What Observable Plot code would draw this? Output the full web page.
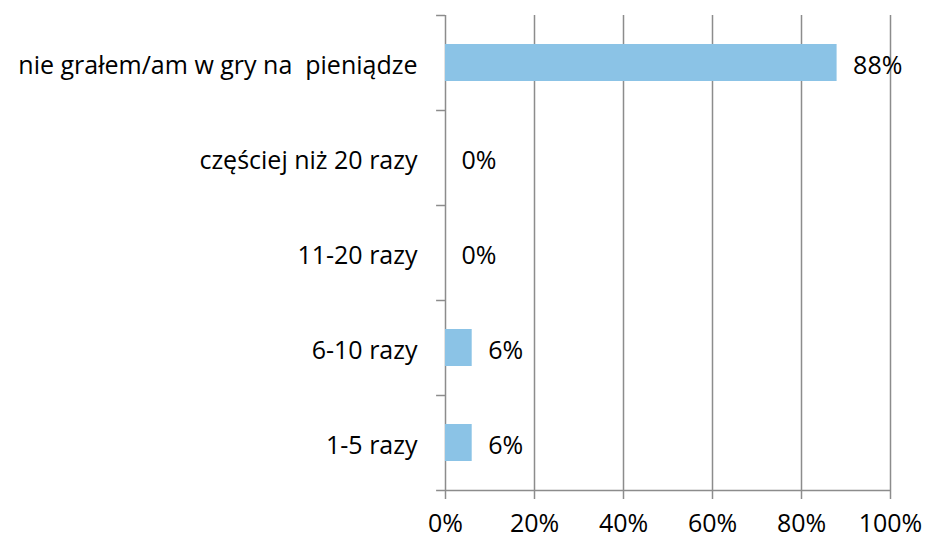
<!DOCTYPE html>
<html>
<head>
<meta charset="utf-8">
<script src="https://cdn.jsdelivr.net/npm/d3@7"></script>
<script src="https://cdn.jsdelivr.net/npm/@observablehq/plot@0.6"></script>
<style>
  html, body { margin: 0; padding: 0; background: #fff; }
  svg text { white-space: pre; }
</style>
</head>
<body>
<div id="chart"></div>
<script>
const categories = ["nie grałem/am w gry na  pieniądze", "częściej niż 20 razy", "11-20 razy", "6-10 razy", "1-5 razy"];
const values = [0.88, 0, 0, 0.06, 0.06];
const xTicks = [0, 0.2, 0.4, 0.6, 0.8, 1];

const data = categories.map((c, i) => ({category: c, value: values[i]}));
const fmt = d3.format(".0%");
const gray = "#8c8c8c";
const H = 541, MT = 15, MB = 51;
const step = (H - MT - MB) / categories.length;
const FS = 25;

const chart = Plot.plot({
  width: 925,
  height: H,
  marginLeft: 445,
  marginRight: 35,
  marginTop: MT,
  marginBottom: MB,
  style: {fontFamily: "'Open Sans', 'Noto Sans', sans-serif", fontSize: FS + "px", color: "#000", background: "#fff", overflow: "visible"},
  x: {domain: [0, 1], label: null},
  y: {domain: categories, paddingInner: 0.61, paddingOuter: 0.305, label: null},
  marks: [
    Plot.gridX(xTicks, {stroke: gray, strokeOpacity: 1, strokeWidth: 1.5}),
    Plot.barX(data, {x: "value", y: "category", fill: "#8BC3E6"}),
    Plot.ruleY(categories, {y: d => d, x1: -0.02, x2: 0, dy: -step / 2, stroke: gray, strokeWidth: 1.5}),
    Plot.ruleY([categories[categories.length - 1]], {y: d => d, x1: -0.02, x2: 1, dy: step / 2, stroke: gray, strokeWidth: 1.5}),
    Plot.text(data, {x: "value", y: "category", text: d => fmt(d.value), textAnchor: "start", dx: 16, dy: 3, fontSize: FS, fill: "#000"}),
    Plot.axisX(xTicks, {tickFormat: fmt, tickSize: 9, tickPadding: 15, stroke: gray, strokeWidth: 1.5, fontSize: FS, fill: "#000", label: null}),
    Plot.axisY({tickSize: 0, tickPadding: 28, dy: 3, fontSize: FS, fill: "#000", label: null})
  ]
});
document.getElementById("chart").appendChild(chart);
</script>
</body>
</html>
